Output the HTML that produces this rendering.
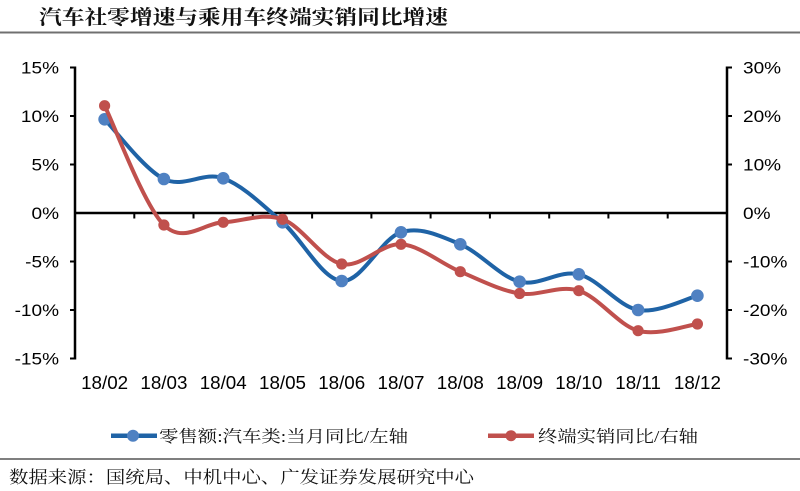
<!DOCTYPE html>
<html>
<head>
<meta charset="utf-8">
<style>
html,body{margin:0;padding:0;background:#fff;}
svg{display:block;}
.num{font-family:"Liberation Sans",Arial,sans-serif;fill:#000;}
.cjk{font-family:"Liberation Serif","Noto Serif CJK SC",serif;fill:#111;}
</style>
</head>
<body>
<svg width="800" height="491" viewBox="0 0 800 491" xmlns="http://www.w3.org/2000/svg">
  <rect width="800" height="491" fill="#fff"/>
  <!-- Title -->
  <text class="cjk" x="39" y="24" font-size="20" font-weight="bold" fill="#1c1f2e" textLength="409" lengthAdjust="spacingAndGlyphs">汽车社零增速与乘用车终端实销同比增速</text>
  <line x1="0" y1="32.5" x2="800" y2="32.5" stroke="#707070" stroke-width="2"/>

  <!-- Left axis -->
  <line x1="75" y1="66.5" x2="75" y2="359.5" stroke="#000" stroke-width="2.5"/>
  <g stroke="#000" stroke-width="2">
    <line x1="70" y1="67.5" x2="75" y2="67.5"/>
    <line x1="70" y1="116" x2="75" y2="116"/>
    <line x1="70" y1="164.5" x2="75" y2="164.5"/>
    <line x1="70" y1="261.5" x2="75" y2="261.5"/>
    <line x1="70" y1="310" x2="75" y2="310"/>
    <line x1="70" y1="358.5" x2="75" y2="358.5"/>
  </g>
  <!-- Right axis -->
  <line x1="727" y1="66.5" x2="727" y2="359.5" stroke="#000" stroke-width="2.5"/>
  <g stroke="#000" stroke-width="2">
    <line x1="727" y1="67.5" x2="732" y2="67.5"/>
    <line x1="727" y1="116" x2="732" y2="116"/>
    <line x1="727" y1="164.5" x2="732" y2="164.5"/>
    <line x1="727" y1="261.5" x2="732" y2="261.5"/>
    <line x1="727" y1="310" x2="732" y2="310"/>
    <line x1="727" y1="358.5" x2="732" y2="358.5"/>
  </g>
  <!-- Zero line / x axis -->
  <line x1="75" y1="213" x2="727" y2="213" stroke="#000" stroke-width="2.5"/>
  <g stroke="#000" stroke-width="2">
    <line x1="134.3" y1="213" x2="134.3" y2="218.5"/>
    <line x1="193.5" y1="213" x2="193.5" y2="218.5"/>
    <line x1="252.8" y1="213" x2="252.8" y2="218.5"/>
    <line x1="312.1" y1="213" x2="312.1" y2="218.5"/>
    <line x1="371.4" y1="213" x2="371.4" y2="218.5"/>
    <line x1="430.6" y1="213" x2="430.6" y2="218.5"/>
    <line x1="489.9" y1="213" x2="489.9" y2="218.5"/>
    <line x1="549.2" y1="213" x2="549.2" y2="218.5"/>
    <line x1="608.4" y1="213" x2="608.4" y2="218.5"/>
    <line x1="667.7" y1="213" x2="667.7" y2="218.5"/>
  </g>

  <!-- Left labels -->
  <g class="num" font-size="17" text-anchor="end">
    <text transform="translate(59,73.5) scale(1.12,1)">15%</text>
    <text transform="translate(59,122) scale(1.12,1)">10%</text>
    <text transform="translate(59,170.5) scale(1.12,1)">5%</text>
    <text transform="translate(59,219) scale(1.12,1)">0%</text>
    <text transform="translate(59,267.5) scale(1.12,1)">-5%</text>
    <text transform="translate(59,316) scale(1.12,1)">-10%</text>
    <text transform="translate(59,364.5) scale(1.12,1)">-15%</text>
  </g>
  <!-- Right labels -->
  <g class="num" font-size="17" text-anchor="start">
    <text transform="translate(743,73.5) scale(1.12,1)">30%</text>
    <text transform="translate(743,122) scale(1.12,1)">20%</text>
    <text transform="translate(743,170.5) scale(1.12,1)">10%</text>
    <text transform="translate(743,219) scale(1.12,1)">0%</text>
    <text transform="translate(743,267.5) scale(1.12,1)">-10%</text>
    <text transform="translate(743,316) scale(1.12,1)">-20%</text>
    <text transform="translate(743,364.5) scale(1.12,1)">-30%</text>
  </g>
  <!-- X labels -->
  <g class="num" font-size="18.8" text-anchor="middle">
    <text x="104.6" y="389">18/02</text>
    <text x="163.9" y="389">18/03</text>
    <text x="223.2" y="389">18/04</text>
    <text x="282.5" y="389">18/05</text>
    <text x="341.7" y="389">18/06</text>
    <text x="401.0" y="389">18/07</text>
    <text x="460.3" y="389">18/08</text>
    <text x="519.6" y="389">18/09</text>
    <text x="578.8" y="389">18/10</text>
    <text x="638.1" y="389">18/11</text>
    <text x="697.4" y="389">18/12</text>
  </g>

  <!-- Blue series -->
  <path fill="none" stroke="#1f63a6" stroke-width="4" stroke-linejoin="round" stroke-linecap="round"
    d="M104.6,119.3 C114.5,129.25 144.1,169.17 163.9,179
       C183.7,188.83 203.4,171.08 223.2,178.3
       C243.0,185.52 262.7,205.18 282.5,222.3
       C302.3,239.42 322.0,279.33 341.7,281
       C361.5,282.67 381.2,238.42 401.0,232.3
       C420.8,226.18 440.5,236.07 460.3,244.3
       C480.1,252.53 499.8,276.7 519.6,281.7
       C539.4,286.7 559.0,269.58 578.8,274.3
       C598.6,279.02 618.3,306.43 638.1,310
       C657.9,313.57 687.5,298.08 697.4,295.7"/>
  <g fill="#4f81c2">
    <circle cx="104.6" cy="119.3" r="6.3"/>
    <circle cx="163.9" cy="179" r="6.3"/>
    <circle cx="223.2" cy="178.3" r="6.3"/>
    <circle cx="282.5" cy="222.3" r="6.3"/>
    <circle cx="341.7" cy="281" r="6.3"/>
    <circle cx="401.0" cy="232.3" r="6.3"/>
    <circle cx="460.3" cy="244.3" r="6.3"/>
    <circle cx="519.6" cy="281.7" r="6.3"/>
    <circle cx="578.8" cy="274.3" r="6.3"/>
    <circle cx="638.1" cy="310" r="6.3"/>
    <circle cx="697.4" cy="295.7" r="6.3"/>
  </g>

  <!-- Red series -->
  <path fill="none" stroke="#c0504d" stroke-width="4" stroke-linejoin="round" stroke-linecap="round"
    d="M104.6,105.7 C114.5,125.58 144.1,205.57 163.9,225
       C183.7,244.43 203.4,223.25 223.2,222.3
       C243.0,221.35 262.7,212.35 282.5,219.3
       C302.3,226.25 322.0,259.83 341.7,264
       C361.5,268.17 381.2,243.02 401.0,244.3
       C420.8,245.58 440.5,263.5 460.3,271.7
       C480.1,279.9 499.8,290.33 519.6,293.5
       C539.4,296.67 559.0,284.5 578.8,290.7
       C598.6,296.9 618.3,325.15 638.1,330.7
       C657.9,336.25 687.5,325.12 697.4,324"/>
  <g fill="#c0504d">
    <circle cx="104.6" cy="105.7" r="5.6"/>
    <circle cx="163.9" cy="225" r="5.6"/>
    <circle cx="223.2" cy="222.3" r="5.6"/>
    <circle cx="282.5" cy="219.3" r="5.6"/>
    <circle cx="341.7" cy="264" r="5.6"/>
    <circle cx="401.0" cy="244.3" r="5.6"/>
    <circle cx="460.3" cy="271.7" r="5.6"/>
    <circle cx="519.6" cy="293.5" r="5.6"/>
    <circle cx="578.8" cy="290.7" r="5.6"/>
    <circle cx="638.1" cy="330.7" r="5.6"/>
    <circle cx="697.4" cy="324" r="5.6"/>
  </g>

  <!-- Legend -->
  <line x1="111" y1="435.7" x2="157" y2="435.7" stroke="#1f63a6" stroke-width="4.5"/>
  <circle cx="133" cy="435.7" r="6" fill="#4f81c2"/>
  <text class="cjk" x="159" y="442" font-size="16.5" textLength="249" lengthAdjust="spacingAndGlyphs">零售额:汽车类:当月同比/左轴</text>

  <line x1="488" y1="435.7" x2="534" y2="435.7" stroke="#c0504d" stroke-width="4.5"/>
  <circle cx="511" cy="435.7" r="5.5" fill="#c0504d"/>
  <text class="cjk" x="538" y="442" font-size="16.5" textLength="160" lengthAdjust="spacingAndGlyphs">终端实销同比/右轴</text>

  <!-- Bottom rule and source -->
  <line x1="0" y1="459" x2="800" y2="459" stroke="#555" stroke-width="1.5"/>
  <text class="cjk" x="9" y="483" font-size="17" fill="#222" textLength="465" lengthAdjust="spacingAndGlyphs">数据来源：国统局、中机中心、广发证券发展研究中心</text>
</svg>
</body>
</html>
